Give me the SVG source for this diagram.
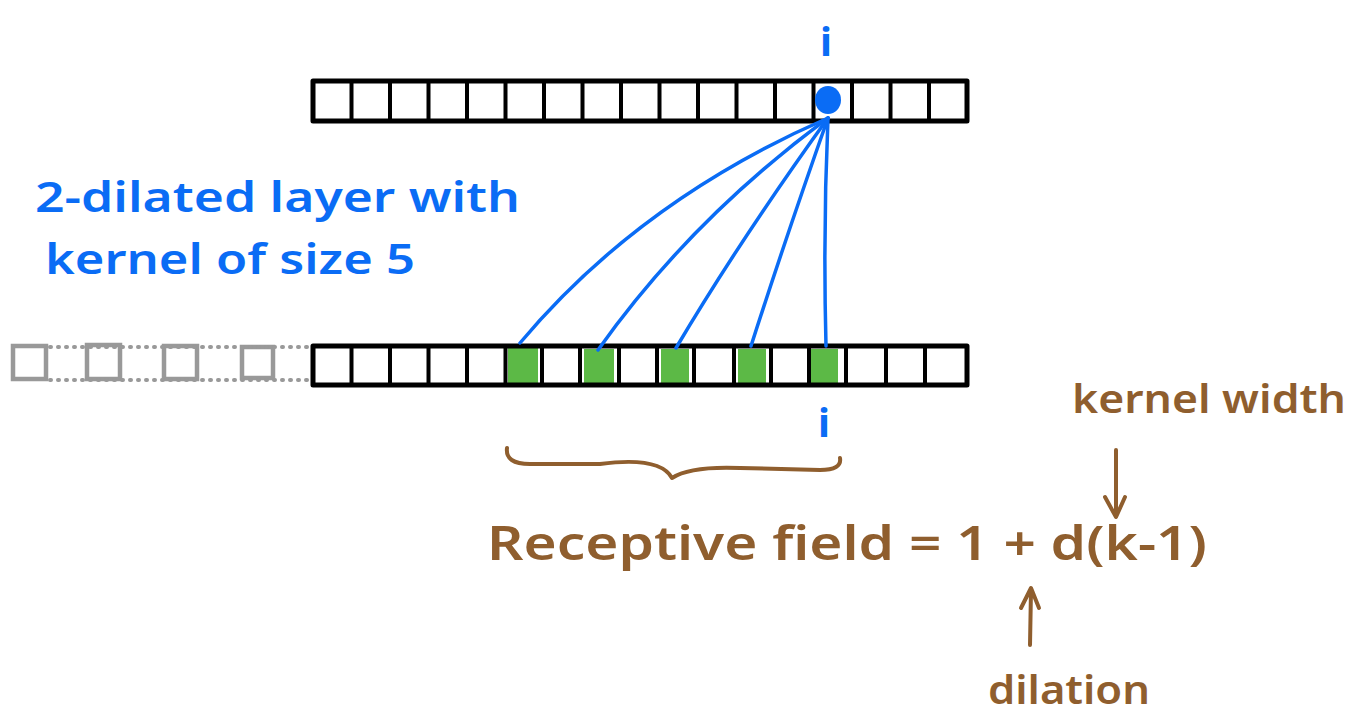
<svg xmlns="http://www.w3.org/2000/svg" width="1358" height="714" viewBox="0 0 1358 714">
<style>
.bar{fill:none;stroke:#000;stroke-width:5;stroke-linejoin:round;stroke-linecap:round}
.div{stroke:#000;stroke-width:4;stroke-linecap:round}
.ghost{fill:none;stroke:#999;stroke-width:4.5}
.dots{stroke:#999;stroke-width:4;stroke-dasharray:1 7;stroke-linecap:round}
.fan{fill:none;stroke:#0a6cf5;stroke-width:3.5;stroke-linecap:round}
.blue{fill:#0a6cf5;font-family:'Noto Sans',sans-serif}
.brown{fill:#8f5e2e;font-family:'Noto Sans',sans-serif}
.bline{fill:none;stroke:#8f5e2e;stroke-width:4;stroke-linecap:round;stroke-linejoin:round}
.green{fill:#5cb946}
</style>
<rect width="1358" height="714" fill="#fff"/>
<g id="top-layer">
<rect class="bar" x="313" y="81" width="654" height="40"/>
<g class="div">
<line x1="351.5" y1="81" x2="351.5" y2="121"/><line x1="390" y1="81" x2="390" y2="121"/><line x1="428.5" y1="81" x2="428.5" y2="121"/><line x1="467" y1="81" x2="467" y2="121"/><line x1="505.5" y1="81" x2="505.5" y2="121"/><line x1="544" y1="81" x2="544" y2="121"/><line x1="582.5" y1="81" x2="582.5" y2="121"/><line x1="621" y1="81" x2="621" y2="121"/><line x1="659.5" y1="81" x2="659.5" y2="121"/><line x1="698" y1="81" x2="698" y2="121"/><line x1="736.5" y1="81" x2="736.5" y2="121"/><line x1="775" y1="81" x2="775" y2="121"/><line x1="813.5" y1="81" x2="813.5" y2="121"/><line x1="852" y1="81" x2="852" y2="121"/><line x1="890.5" y1="81" x2="890.5" y2="121"/><line x1="929" y1="81" x2="929" y2="121"/>
</g>
<ellipse cx="828" cy="100" rx="13" ry="14" fill="#0a6cf5"/>
<text class="blue" x="826" y="56" font-size="40" font-weight="700" text-anchor="middle">i</text>
</g>
<g id="bottom-layer">
<rect class="green" x="508" y="347" width="30" height="37"/>
<rect class="green" x="584" y="349" width="30" height="35"/>
<rect class="green" x="661" y="349" width="28" height="35"/>
<rect class="green" x="738" y="349" width="28" height="35"/>
<rect class="green" x="810" y="349" width="28" height="35"/>
<rect class="bar" x="313" y="346" width="654" height="39"/>
<g class="div">
<line x1="351.5" y1="346" x2="351.5" y2="385"/><line x1="390" y1="346" x2="390" y2="385"/><line x1="428.5" y1="346" x2="428.5" y2="385"/><line x1="467" y1="346" x2="467" y2="385"/><line x1="505.5" y1="346" x2="505.5" y2="385"/><line x1="542" y1="346" x2="542" y2="385"/><line x1="580" y1="346" x2="580" y2="385"/><line x1="619" y1="346" x2="619" y2="385"/><line x1="657" y1="346" x2="657" y2="385"/><line x1="694" y1="346" x2="694" y2="385"/><line x1="734" y1="346" x2="734" y2="385"/><line x1="771" y1="346" x2="771" y2="385"/><line x1="809" y1="346" x2="809" y2="385"/><line x1="846" y1="346" x2="846" y2="385"/><line x1="886" y1="346" x2="886" y2="385"/><line x1="925" y1="346" x2="925" y2="385"/>
</g>
<text class="blue" x="824" y="437" font-size="40" font-weight="700" text-anchor="middle">i</text>
</g>
<g id="padding">
<rect class="ghost" x="13" y="346" width="33" height="33"/>
<rect class="ghost" x="87" y="345" width="33" height="34"/>
<rect class="ghost" x="164" y="346" width="33" height="33"/>
<rect class="ghost" x="242" y="347" width="31" height="31"/>
<line class="dots" x1="50" y1="347" x2="310" y2="347"/>
<line class="dots" x1="50" y1="380" x2="310" y2="380"/>
</g>
<g id="connectors">
<path class="fan" d="M828 118 Q640 200 520 343"/>
<path class="fan" d="M828 118 Q690 220 598 350"/>
<path class="fan" d="M828 118 Q740 240 676 348"/>
<path class="fan" d="M828 118 Q785 240 751 346"/>
<path class="fan" d="M828 118 Q823 230 826 346"/>
</g>
<g id="annotation-text">
<text class="blue" x="35" y="212" font-size="42" font-weight="600" textLength="485" lengthAdjust="spacingAndGlyphs">2-dilated layer with</text>
<text class="blue" x="45" y="274" font-size="42" font-weight="600" textLength="370" lengthAdjust="spacingAndGlyphs">kernel of size 5</text>
</g>
<g id="brace">
<path class="bline" d="M507 448 Q505 464 530 464 L600 464 Q660 456 672 478 Q690 466 740 468 L820 470 Q842 470 840 458"/>
</g>
<g id="formula">
<text class="brown" x="487" y="560" font-size="46" font-weight="600" textLength="720" lengthAdjust="spacingAndGlyphs">Receptive field = 1 + d(k-1)</text>
<text class="brown" x="1072" y="413" font-size="40" font-weight="600" textLength="274" lengthAdjust="spacingAndGlyphs">kernel width</text>
<text class="brown" x="988" y="704" font-size="40" font-weight="600" textLength="162" lengthAdjust="spacingAndGlyphs">dilation</text>
<path class="bline" d="M1116 450 L1116 515 M1105 497 L1116 517 L1125 497"/>
<path class="bline" d="M1030 645 L1031 590 M1021 608 L1031 588 L1039 608"/>
</g>
</svg>
